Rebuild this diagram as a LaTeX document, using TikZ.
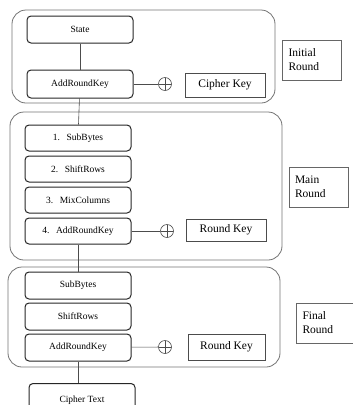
\documentclass[tikz,border=0pt]{standalone}
\usepackage{fontspec}
\setmainfont{Liberation Serif}
\usetikzlibrary{positioning}

\begin{document}
\begin{tikzpicture}[x=1pt, y=-1pt,
		stage/.style={draw=black!85, line width=1pt, rounded corners=4pt, minimum width=106pt, minimum height=26pt, inner sep=1pt, font=\fontsize{9.5}{11}\selectfont},
		keybox/.style={draw=black!70, line width=0.6pt, minimum width=80pt, minimum height=24pt, font=\fontsize{11.5}{13}\selectfont},
		tag/.style={draw=black!60, line width=0.6pt, text width=47pt, inner sep=6pt, minimum height=40pt, align=left, font=\fontsize{11.5}{14}\selectfont},
		frame/.style={draw=black!55, line width=0.8pt, rounded corners=14pt},
		xor/.style={circle, draw=black!70, line width=0.6pt, minimum size=13pt, inner sep=0pt,
			path picture={\draw[black!70, line width=0.6pt] (path picture bounding box.north) -- (path picture bounding box.south)
				(path picture bounding box.west) -- (path picture bounding box.east);}},
		link/.style={draw=black!70, line width=0.6pt}
	]
		\useasboundingbox (0,0) rectangle (353,405);
		\clip (0,0) rectangle (353,405);

		% round frames
		\draw[frame] (12,10) rectangle (275,103);
		\draw[frame] (10,112) rectangle (282,260);
		\draw[frame] (8,267) rectangle (280,367);

		% initial round
		\node[stage, minimum height=27pt] (state) at (80,29.5) {State};
		\node[stage, minimum height=28pt] (ark0) at (80,84) {AddRoundKey};
		\node[xor] (xor0) at (165,84) {};
		\node[keybox] (ckey) at (225,85) {Cipher Key};
		\node[tag] (initlbl) at (312,60) {Initial\\Round};

		% main round
		\node[stage] (sb1) at (78,138) {1.\hspace{0.7em}SubBytes};
		\node[stage, below=4pt of sb1] (sr1) {2.\hspace{0.7em}ShiftRows};
		\node[stage, below=4pt of sr1] (mc1) {3.\hspace{0.7em}MixColumns};
		\node[stage, below=4pt of mc1] (ark1) {4.\hspace{0.7em}AddRoundKey};
		\node[xor] (xor1) at (167,231) {};
		\node[keybox, minimum height=22pt] (rkey1) at (226,230) {Round Key};
		\node[tag] (mainlbl) at (318.5,187) {Main\\Round};

		% final round
		\node[stage, minimum height=27pt] (sb2) at (78,285.5) {SubBytes};
		\node[stage, minimum height=27pt, below=3pt of sb2] (sr2) {ShiftRows};
		\node[stage, minimum height=27pt, below=3pt of sr2] (ark2) {AddRoundKey};
		\node[xor] (xor2) at (165,347) {};
		\node[keybox, minimum width=77pt, minimum height=26pt] (rkey2) at (226.5,347) {Round Key};
		\node[tag] (finallbl) at (326,323) {Final\\Round};

		\node[stage, minimum height=40pt, anchor=north] (ctext) at (82,383) {\raisebox{9pt}{Cipher Text}};

		\draw[link] (state) -- (ark0);
		\draw[link] (ark0) -- (xor0);
		\draw[link] (ark0) -- (sb1);
		\draw[link] (ark1) -- (xor1);
		\draw[link] (ark1) -- (sb2);
		\draw[link] (ark2) -- (xor2);
		\draw[link] (ark2.south) -- (ark2.south |- ctext.north);
	\end{tikzpicture}
\end{document}
